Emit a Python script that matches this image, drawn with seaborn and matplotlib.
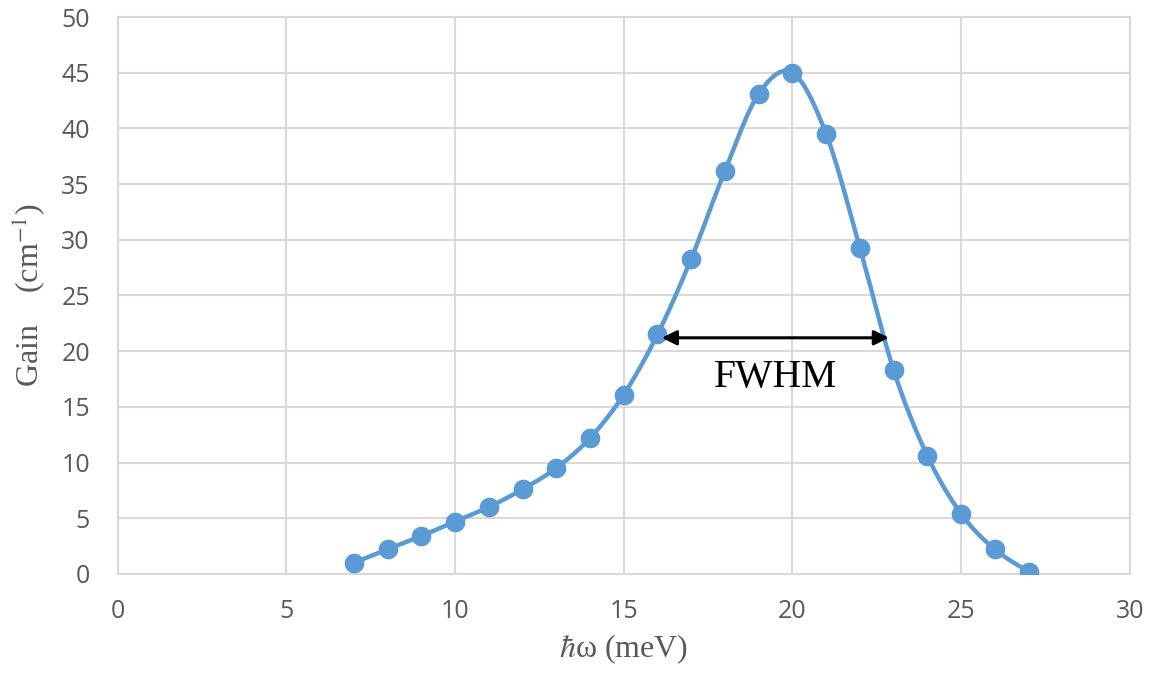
import numpy as np
import pandas as pd
import matplotlib
matplotlib.use("Agg")
import matplotlib.pyplot as plt
import seaborn as sns

# data
energy = [7, 8, 9, 10, 11, 12, 13, 14, 15, 16, 17, 18, 19, 20, 21, 22, 23, 24, 25, 26, 27]
gain = [1.0, 2.2, 3.4, 4.7, 6.0, 7.6, 9.5, 12.2, 16.1, 21.5, 28.3, 36.2, 43.1, 45.0,
        39.5, 29.3, 18.3, 10.6, 5.4, 2.2, 0.2]
x_ticks = [0, 5, 10, 15, 20, 25, 30]
y_ticks = [0, 5, 10, 15, 20, 25, 30, 35, 40, 45, 50]
fwhm_left, fwhm_right, fwhm_level = 16.13, 22.86, 21.2
fwhm_label = "FWHM"

sns.set_style("white")
plt.rcParams['mathtext.fontset'] = 'stix'

# smooth (Excel-like Bezier) curve through the data points
def smooth_curve(xs, ys, n=30):
    P = np.column_stack([xs, ys]).astype(float)
    out = []
    for i in range(len(P) - 1):
        p0 = P[i - 1] if i > 0 else P[i]
        p1 = P[i]
        p2 = P[i + 1]
        p3 = P[i + 2] if i + 2 < len(P) else P[i + 1]
        c1 = p1 + (p2 - p0) / 6.0
        c2 = p2 - (p3 - p1) / 6.0
        t = np.linspace(0, 1, n, endpoint=(i == len(P) - 2))[:, None]
        seg = ((1 - t) ** 3) * p1 + 3 * ((1 - t) ** 2) * t * c1 + 3 * (1 - t) * t ** 2 * c2 + t ** 3 * p2
        out.append(seg)
    S = np.vstack(out)
    return S[:, 0], S[:, 1]

sx, sy = smooth_curve(energy, gain)
curve = pd.DataFrame({"x": sx, "y": sy})
pts = pd.DataFrame({"x": energy, "y": gain})

fig = plt.figure(figsize=(11.54, 6.84), dpi=100)
ax = fig.add_axes([0.102, 0.161, 0.877, 0.814])

blue = "#5B9BD5"
ax.plot(curve["x"], curve["y"], color=blue, lw=3.2, zorder=3, solid_capstyle="round")
sns.scatterplot(data=pts, x="x", y="y", ax=ax, color=blue, s=200, edgecolor=blue,
                linewidth=0, zorder=4, legend=False)

ax.set_xlim(0, 30)
ax.set_ylim(0, 50)
ax.set_xticks(x_ticks)
ax.set_yticks(y_ticks)
ax.grid(True, color="#d9d9d9", lw=1.5)
ax.set_axisbelow(True)
for s in ax.spines.values():
    s.set_color("#d9d9d9")
    s.set_linewidth(1.5)
ax.tick_params(axis="both", length=0, labelsize=18, labelcolor="#595959")
ax.tick_params(axis="x", pad=18)
ax.tick_params(axis="y", pad=20)
for lab in ax.get_xticklabels() + ax.get_yticklabels():
    lab.set_family("Open Sans")

ax.set_xlabel(r"$\hbar$ω (meV)", fontsize=23, color="#595959",
              family="Liberation Serif", labelpad=6)
ax.set_ylabel("Gain\u2003(cm$^{-1}$)", fontsize=23, color="#595959",
              family="Liberation Serif", labelpad=10)

ax.annotate("", xy=(fwhm_left, fwhm_level), xytext=(fwhm_right, fwhm_level),
            arrowprops=dict(arrowstyle="<|-|>", color="black", lw=2.2,
                            mutation_scale=22, shrinkA=0, shrinkB=0), zorder=5)
ax.text(19.5, 17.6, fwhm_label, fontsize=28.5, family="Liberation Serif",
        color="black", ha="center", va="center", zorder=5)

fig.savefig("out.png", dpi=100)
